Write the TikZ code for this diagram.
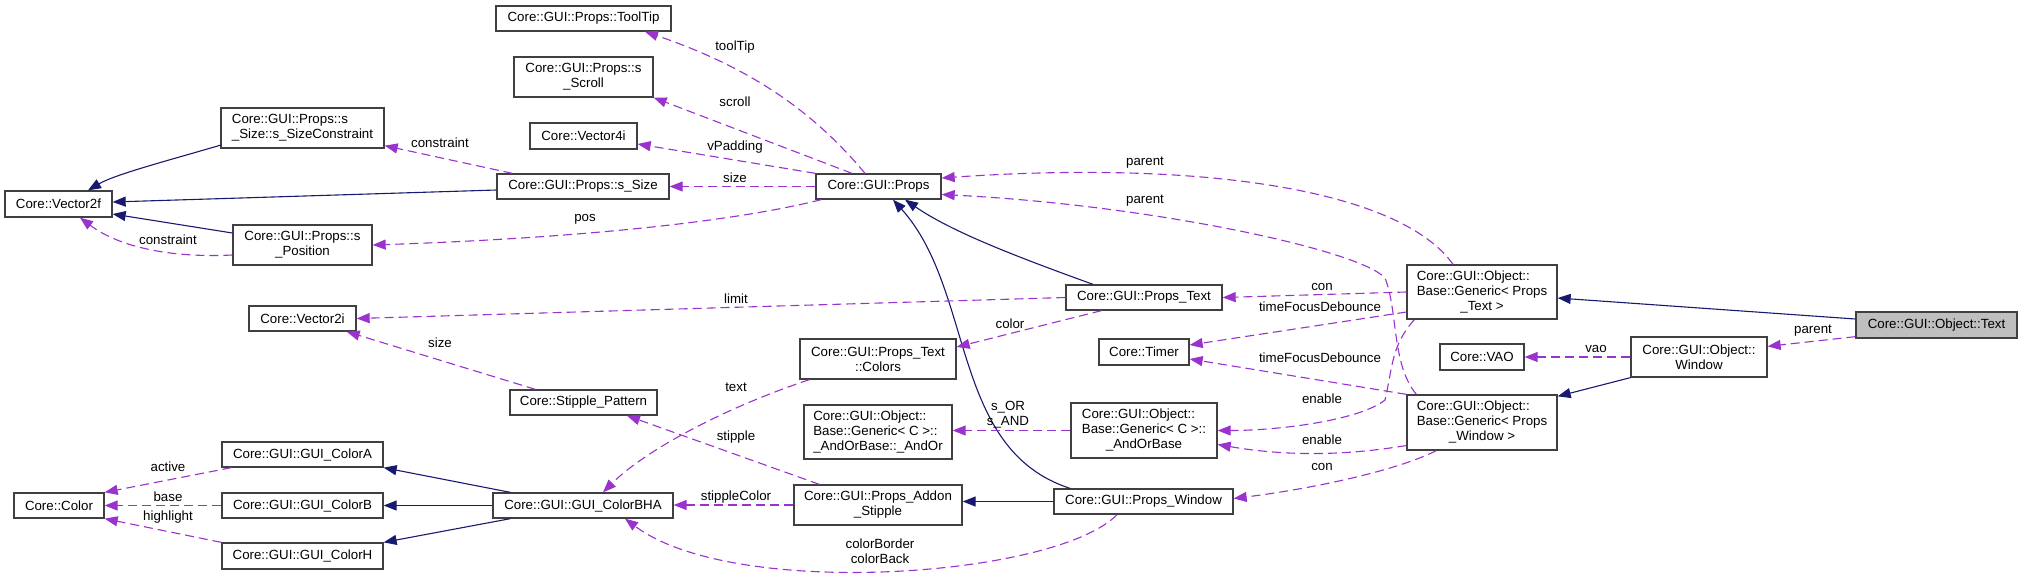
\documentclass[tikz,border=0pt]{standalone}
\usepackage{fontspec}
\setmainfont{Liberation Sans}
\usetikzlibrary{arrows.meta,calc}
\definecolor{navyc}{HTML}{191970}
\definecolor{purpc}{HTML}{9A32CD}
\definecolor{boxc}{HTML}{404040}
\definecolor{greyfill}{HTML}{BFBFBF}
\newcommand\dfont{\fontsize{13.3}{15}\selectfont}
\newcommand\lftcol[1]{\begin{tabular}{@{}l@{}}#1\end{tabular}}
\newcommand\ctrrow[1]{\multicolumn{1}{@{}c@{}}{#1}}
\tikzset{
 clsbox/.style={draw=boxc, line width=1.3pt, fill=white, inner sep=0pt, font=\dfont, align=center},
 inh/.style={draw=navyc, line width=1.1pt, -{Triangle[length=13pt,width=10pt]}},
 use/.style={draw=purpc, line width=1.1pt, dash pattern=on 9pt off 5pt, -{Triangle[length=13pt,width=10pt]}},
 lbl/.style={inner sep=0pt, font=\dfont, align=center},
}
\newcommand\mkcls[6]{\node[clsbox, minimum width=#4pt, minimum height=#5pt] (#1) at (#2,#3) {#6};}
\begin{document}
\begin{tikzpicture}[x=1pt,y=-1pt]
\useasboundingbox (0,0) rectangle (2023,582);
\fill[white] (0,0) rectangle (2023,582);
% nodes
\mkcls{v2f}{58.5}{204}{107}{26}{Core::Vector2f}
\mkcls{szc}{302.5}{128}{163}{40}{\lftcol{Core::GUI::Props::s\\\_Size::s\_SizeConstraint}}
\mkcls{spos}{302.5}{245}{139}{40}{Core::GUI::Props::s\\\_Position}
\mkcls{ssize}{583}{186.5}{172}{25}{Core::GUI::Props::s\_Size}
\mkcls{tooltip}{583.5}{18.5}{175}{25}{Core::GUI::Props::ToolTip}
\mkcls{scroll}{583.5}{77}{139}{40}{Core::GUI::Props::s\\\_Scroll}
\mkcls{v4i}{583.5}{136}{107}{26}{Core::Vector4i}
\mkcls{props}{878.5}{186.5}{125}{25}{Core::GUI::Props}
\mkcls{v2i}{302.5}{318.5}{107}{25}{Core::Vector2i}
\mkcls{stip}{583.5}{402.5}{147}{25}{Core::Stipple\_Pattern}
\mkcls{colA}{302.5}{454.5}{161}{25}{Core::GUI::GUI\_ColorA}
\mkcls{colB}{302.5}{505.5}{161}{25}{Core::GUI::GUI\_ColorB}
\mkcls{colH}{302.5}{556}{161}{26}{Core::GUI::GUI\_ColorH}
\mkcls{color}{59}{505.5}{90}{25}{Core::Color}
\mkcls{bha}{583}{505.5}{180}{25}{Core::GUI::GUI\_ColorBHA}
\mkcls{ptext}{1144}{297.5}{156}{25}{Core::GUI::Props\_Text}
\mkcls{colors}{878}{359}{156}{40}{Core::GUI::Props\_Text\\::Colors}
\mkcls{andor}{878}{432}{148}{54}{\lftcol{Core::GUI::Object::\\Base::Generic< C >::\\\_AndOrBase::\_AndOr}}
\mkcls{addon}{878}{505}{168}{40}{Core::GUI::Props\_Addon\\\_Stipple}
\mkcls{timer}{1144}{352}{90}{26}{Core::Timer}
\mkcls{andorbase}{1144}{430.5}{146}{55}{\lftcol{Core::GUI::Object::\\Base::Generic< C >::\\\ctrrow{\_AndOrBase}}}
\mkcls{pwin}{1143.5}{501.5}{179}{25}{Core::GUI::Props\_Window}
\mkcls{gtext}{1482}{292}{150}{54}{\lftcol{Core::GUI::Object::\\Base::Generic< Props\\\ctrrow{\_Text >}}}
\mkcls{gwin}{1482}{422.5}{150}{55}{\lftcol{Core::GUI::Object::\\Base::Generic< Props\\\ctrrow{\_Window >}}}
\mkcls{vao}{1482}{357}{84}{26}{Core::VAO}
\mkcls{owin}{1699}{357}{136}{40}{Core::GUI::Object::\\Window}
\node[clsbox, fill=greyfill, minimum width=161pt, minimum height=26pt] (text) at (1936.5,325) {Core::GUI::Object::Text};
% inheritance
\draw[inh] ($(szc)+(-81.5,17)$) .. controls +(-51,15) and +(27,-16) .. ($(v2f.north)+(29.5,0)$);
\draw[inh] ($(ssize.west)+(0,3.5)$) -- ($(v2f.east)+(0,-2)$);
\draw[inh] ($(spos.west)+(0,-12)$) -- ($(v2f.east)+(0,10)$);
\draw[inh] ($(ptext.north)+(-51,0)$) .. controls +(-83,-30) and +(45,31) .. ($(props.south)+(26.5,0)$);
\draw[inh] ($(pwin.north)+(-73.5,0)$) .. controls +(-120,-39) and +(82,91) .. ($(props.south)+(14.5,0)$);
\draw[inh] ($(bha.north west)+(18,0)$) -- (colA.south east);
\draw[inh] (bha.west) -- (colB.east);
\draw[inh] ($(bha.south west)+(18,0)$) -- (colH.north east);
\draw[inh] (pwin.west) -- (pwin.west -| addon.east);
\draw[inh] ($(text.west)+(0,-6)$) -- ($(gtext.east)+(0,6)$);
\draw[inh] (owin.south west) -- ($(gwin.north east)+(0,2)$);
% usage
\draw[use] ($(props.north)+(-13.5,0)$) .. controls +(-45,-54) and +(115,39) .. ($(tooltip.south)+(61.5,0)$);
\draw[use] ($(props.north)+(-26.5,0)$) -- (scroll.south east);
\draw[use] (props.north west) -- ($(v4i.east)+(0,8)$);
\draw[use] (props.west) -- (ssize.east);
\draw[use] ($(props.south west)+(6,0)$) .. controls +(-100,25) and +(180,-6) .. (spos.east);
\draw[use] ($(ssize.north west)+(16,0)$) -- ($(szc.south east)+(0,-3)$);
\draw[use] ($(spos.west)+(0,10)$) .. controls +(-60,3) and +(40,30) .. ($(v2f.south)+(21.5,0)$);
\draw[use] (ptext.west) -- (v2i.east);
\draw[use] ($(ptext.south west)+(36,0)$) -- ($(colors.east)+(0,-12)$);
\draw[use] ($(stip.north west)+(26,0)$) -- ($(v2i.south east)+(-10,0)$);
\draw[use] ($(colors.south west)+(10,0)$) .. controls +(-90,30) and +(40,-40) .. ($(bha.north)+(20,0)$);
\draw[use] ($(addon.north west)+(26,0)$) -- ($(stip.south)+(43.5,0)$);
\draw[use] (addon.west) -- (addon.west -| bha.east);
\draw[use] ($(pwin.south)+(-26.5,0)$) .. controls +(-60,62) and +(110,82) .. ($(bha.south)+(42,0)$);
\draw[use] ($(colA.south west)+(10,0)$) -- (color.north east);
\draw[use] (colB.west) -- (color.east);
\draw[use] (colH.north west) -- (color.south east);
\draw[use] (andorbase.west) -- (andorbase.west -| andor.east);
\draw[use] ($(gtext.north)+(-29,0)$) .. controls +(-53,-75) and +(259,-18) .. ($(props.east)+(0,-8.5)$);
\coordinate (w1) at (1385,278);
\draw[use] ($(gwin.north west)+(10,0)$) .. controls +(-25,-30) and +(13,32) .. (w1) .. controls +(-25,-28) and +(209,10.5) .. ($(props.east)+(0,8)$);
\draw[use] (gtext.west) -- (ptext.east);
\draw[use] ($(gtext.west)+(0,20)$) -- ($(timer.east)+(0,-7)$);
\draw[use] (gwin.north west) -- ($(timer.east)+(0,7)$);
\coordinate (w2) at (1385,400);
\draw[use] ($(gtext.south west)+(8,0)$) .. controls +(-23,26) and +(8,-35) .. (w2) .. controls +(-25,20) and +(63,0) .. (andorbase.east);
\draw[use] ($(gwin.west)+(0,23)$) .. controls +(-60,10) and +(70,12) .. ($(andorbase.east)+(0,14)$);
\draw[use] ($(gwin.south west)+(30,0)$) .. controls +(-40,20) and +(80,-10) .. ($(pwin.east)+(0,-3)$);
\draw[use] (owin.west) -- (vao.east);
\draw[use] ($(text.south west)+(0,-2)$) -- ($(owin.north east)+(0,10)$);
% labels
\node[lbl] (l1) at (735,47) {toolTip};
\node[lbl] (l2) at (735,102) {scroll};
\node[lbl] (l3) at (735,147) {vPadding};
\node[lbl] (l4) at (735,178) {size};
\node[lbl] (l5) at (585,219) {pos};
\node[lbl] (l6) at (440,143) {constraint};
\node[lbl] (l7) at (168,240) {constraint};
\node[lbl] (l8) at (736,299) {limit};
\node[lbl] (l9) at (440,343) {size};
\node[lbl] (l10) at (1010,324) {color};
\node[lbl] (l11) at (736,387) {text};
\node[lbl] (l12) at (736,437) {stipple};
\node[lbl] (l13) at (736,497) {stippleColor};
\node[lbl] (l14) at (880,551) {colorBorder\\colorBack};
\node[lbl] (l15) at (168,467) {active};
\node[lbl] (l16) at (168,497) {base};
\node[lbl] (l17) at (168,517) {highlight};
\node[lbl] (l18) at (1008,415) {s\_OR\\s\_AND};
\node[lbl] (l19) at (1145,163) {parent};
\node[lbl] (l20) at (1145,201) {parent};
\node[lbl] (l21) at (1322,287) {con};
\node[lbl] (l22) at (1320,307) {timeFocusDebounce};
\node[lbl] (l23) at (1320,358) {timeFocusDebounce};
\node[lbl] (l24) at (1322,399) {enable};
\node[lbl] (l25) at (1322,440) {enable};
\node[lbl] (l26) at (1322,467) {con};
\node[lbl] (l27) at (1596,349) {vao};
\node[lbl] (l28) at (1813,331) {parent};
\end{tikzpicture}
\end{document}
